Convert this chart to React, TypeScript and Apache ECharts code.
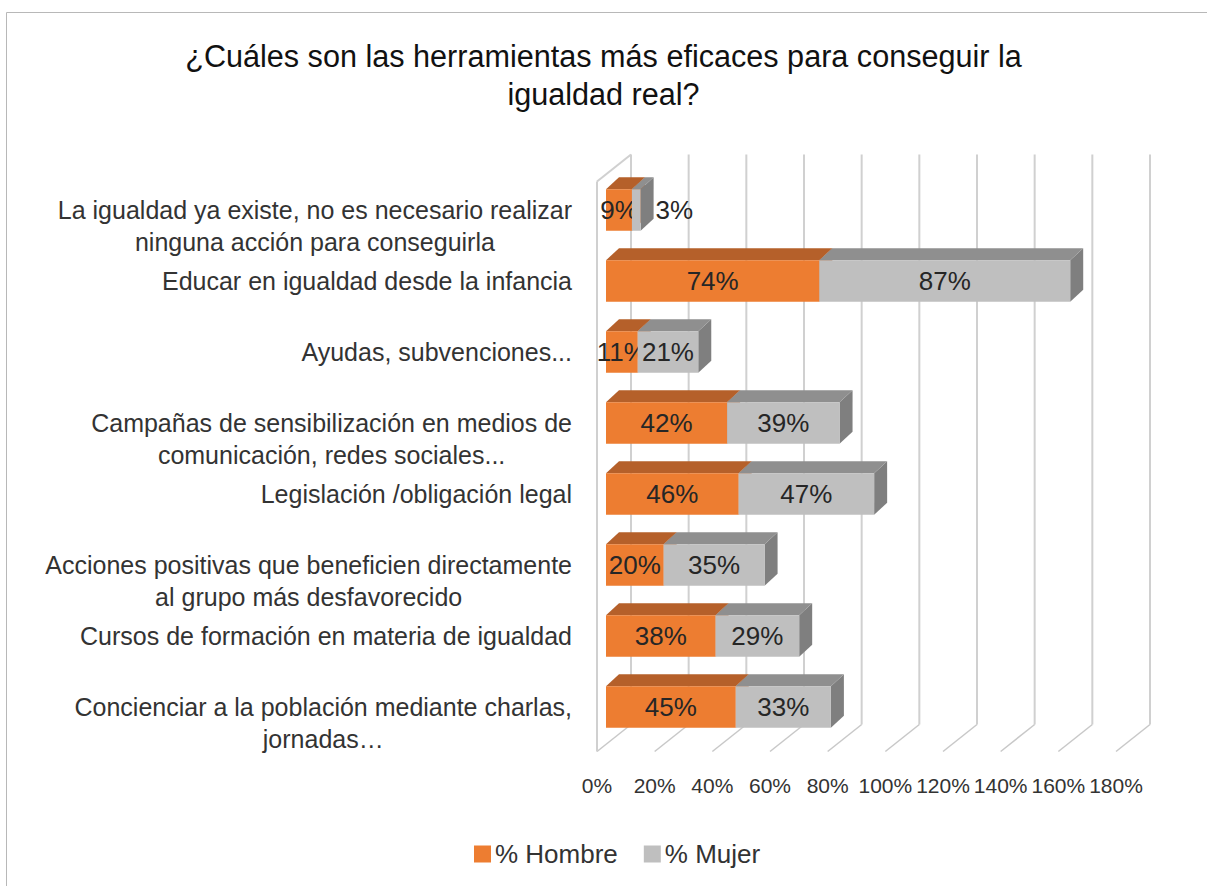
import React, { useEffect, useRef } from "react";
import * as echarts from "echarts";

const categories = [
  "La igualdad ya existe, no es necesario realizar\nninguna acción para conseguirla",
  "Educar en igualdad desde la infancia",
  "Ayudas, subvenciones...",
  "Campañas de sensibilización en medios de\ncomunicación, redes sociales...",
  "Legislación /obligación legal",
  "Acciones positivas que beneficien directamente\nal grupo más desfavorecido",
  "Cursos de formación en materia de igualdad",
  "Concienciar a la población mediante charlas,\njornadas…",
];
const hombre = [9, 74, 11, 42, 46, 20, 38, 45];
const mujer = [3, 87, 21, 39, 47, 35, 29, 33];
const xTicks = [0, 20, 40, 60, 80, 100, 120, 140, 160, 180];

const FONT = "'Liberation Sans', Arial, sans-serif";
const DX = 13;
const DY = 12;
const WALL_DX = 34;
const WALL_DY = 27;
const SHIFT = -9;

function barRender(front: string, top: string, side: string) {
  return (params: any, api: any) => {
    const cat = api.value(0);
    const s = api.value(1);
    const e = api.value(2);
    const v = api.value(3);
    const p0 = api.coord([s, cat]);
    const p1 = api.coord([e, cat]);
    const band = api.size([0, 1])[1];
    const bh = band * 0.585;
    const x0 = p0[0];
    const x1 = p1[0];
    const y0 = p0[1] - bh / 2;
    const y1 = p0[1] + bh / 2;
    const w = x1 - x0;
    const small = w < 20 && s > 0;
    return {
      type: "group",
      children: [
        {
          type: "polygon",
          shape: { points: [[x1, y0], [x1 + DX, y0 - DY], [x1 + DX, y1 - DY], [x1, y1]] },
          style: { fill: side },
        },
        {
          type: "polygon",
          shape: { points: [[x0, y0], [x1, y0], [x1 + DX, y0 - DY], [x0 + DX, y0 - DY]] },
          style: { fill: top },
        },
        {
          type: "rect",
          shape: { x: x0, y: y0, width: w, height: bh },
          style: { fill: front },
        },
        {
          type: "text",
          z2: 10,
          style: {
            text: v + "%",
            x: small ? x1 + DX + 2 : (x0 + x1) / 2,
            y: p0[1],
            align: small ? "left" : "center",
            verticalAlign: "middle",
            font: `26px ${FONT}`,
            fill: "#262626",
          },
        },
      ],
    };
  };
}

export default function App() {
  const ref = useRef<HTMLDivElement>(null);
  useEffect(() => {
    if (!ref.current) return;
    const chart = echarts.init(ref.current, undefined, { renderer: "svg" });
    const hData = hombre.map((h, i) => [i, 0, h, h]);
    const mData = mujer.map((m, i) => [i, hombre[i], hombre[i] + m, m]);
    const option: any = {
      animation: false,
      backgroundColor: "#ffffff",
      title: {
        text: "¿Cuáles son las herramientas más eficaces para conseguir la\nigualdad real?",
        left: "center",
        top: 37,
        padding: [0, 0, 0, 13],
        textStyle: {
          fontFamily: FONT,
          fontSize: 30.6,
          fontWeight: "normal",
          color: "#111111",
          lineHeight: 38,
        },
      },
      graphic: [
        {
          type: "rect",
          shape: { x: 6.5, y: 12.5, width: 1400, height: 1000 },
          style: { fill: "none", stroke: "#b8b8b8", lineWidth: 1 },
          silent: true,
        },
      ],
      legend: {
        left: 469,
        top: 836,
        icon: "rect",
        itemWidth: 17,
        itemHeight: 17,
        itemGap: 26,
        textStyle: { fontFamily: FONT, fontSize: 26, color: "#333333", padding: [0, 0, 0, -1] },
        data: ["% Hombre", "% Mujer"],
      },
      grid: { left: 606, right: 82, top: 174.5, height: 568 },
      xAxis: {
        type: "value",
        min: 0,
        max: 180,
        interval: 20,
        axisLine: { show: false },
        axisTick: { show: false },
        splitLine: { show: false },
        axisLabel: {
          formatter: "{value}%",
          fontFamily: FONT,
          fontSize: 21,
          color: "#333333",
          margin: 32,
          padding: [0, 18, 0, 0],
        },
      },
      yAxis: {
        type: "category",
        inverse: true,
        data: categories,
        axisLine: { show: false },
        axisTick: { show: false },
        axisLabel: {
          margin: 34,
          fontFamily: FONT,
          fontSize: 25,
          color: "#333333",
          lineHeight: 32,
          formatter: (val: string) => {
            const lines = val.split("\n");
            if (lines.length === 1) return `{c|${val}}`;
            return ["{c|\u00a0}", ...lines.map((l) => `{c|${l}}`)].join("\n");
          },
          rich: {
            c: { align: "center", fontFamily: FONT, fontSize: 25, color: "#333333", lineHeight: 32 },
          },
        },
      },
      series: [
        {
          type: "custom",
          name: "walls",
          silent: true,
          z: 1,
          clip: false,
          data: xTicks.map((t) => [t]),
          encode: { x: 0 },
          renderItem: (params: any, api: any) => {
            const cs = params.coordSys;
            const v = api.value(0);
            const x = api.coord([v, 0])[0] + SHIFT;
            const top = cs.y - 20;
            const bottom = cs.y + cs.height + 9;
            const ls = { stroke: "#d0d0d0", lineWidth: 2 };
            const children: any[] = [
              {
                type: "line",
                shape: { x1: x + WALL_DX, y1: top, x2: x + WALL_DX, y2: bottom - WALL_DY },
                style: ls,
              },
              {
                type: "line",
                shape: { x1: x, y1: bottom, x2: x + WALL_DX, y2: bottom - WALL_DY },
                style: { stroke: "#c8c8c8", lineWidth: 1.5 },
              },
            ];
            if (v === 0) {
              children.push(
                { type: "line", shape: { x1: x, y1: top + WALL_DY, x2: x, y2: bottom }, style: ls },
                { type: "line", shape: { x1: x, y1: top + WALL_DY, x2: x + WALL_DX, y2: top }, style: ls }
              );
            }
            return { type: "group", children };
          },
        },
        {
          type: "custom",
          name: "% Hombre",
          z: 2,
          clip: false,
          itemStyle: { color: "#ED7D31" },
          data: hData,
          encode: { x: [1, 2], y: 0 },
          renderItem: barRender("#ED7D31", "#B5602A", "#B5602A"),
        },
        {
          type: "custom",
          name: "% Mujer",
          z: 3,
          clip: false,
          itemStyle: { color: "#BFBFBF" },
          data: mData,
          encode: { x: [1, 2], y: 0 },
          renderItem: barRender("#BFBFBF", "#8F8F8F", "#7F7F7F"),
        },
      ],
    };
    chart.setOption(option);
    return () => chart.dispose();
  }, []);
  return (
    <div
      ref={ref}
      style={{ position: "fixed", left: 0, top: 0, width: 1207, height: 886, background: "#fff" }}
    />
  );
}
